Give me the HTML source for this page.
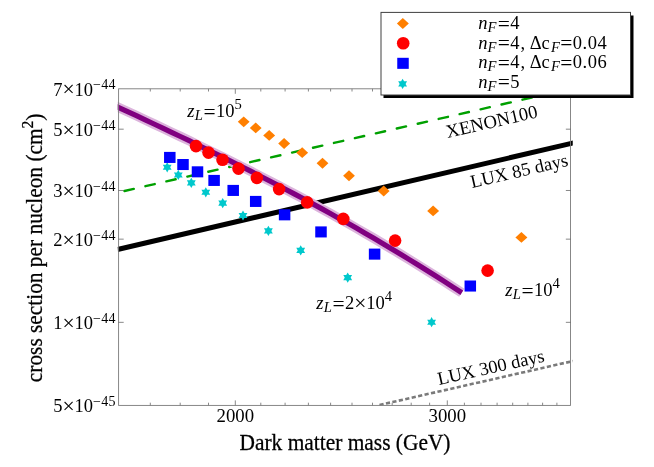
<!DOCTYPE html>
<html><head><meta charset="utf-8"><title>chart</title>
<style>
html,body{margin:0;padding:0;background:#fff;}
svg{display:block;will-change:transform;}
text{font-family:"Liberation Serif",serif;fill:#000;}
.i{font-style:italic;}
</style></head><body>
<svg width="654" height="467" viewBox="0 0 654 467">
<rect x="0" y="0" width="654" height="467" fill="#fff"/>
<defs><clipPath id="cp"><rect x="117.69999999999999" y="88.8" width="455.04999999999995" height="316.59999999999997"/></clipPath></defs>
<g clip-path="url(#cp)">
<line x1="124.5" y1="191.0" x2="575" y2="87.65" stroke="#00a000" stroke-width="2.4" stroke-dasharray="9.5 11.99" stroke-linecap="round"/>
<line x1="379.5" y1="405" x2="575" y2="360.6" stroke="#7a7a7a" stroke-width="2.6" stroke-dasharray="4.2 2.4"/>
<line x1="117.5" y1="249.5" x2="575" y2="142.52" stroke="#000" stroke-width="5.0"/>
</g>
<path d="M110.0,103.5 L118.8,107.6 L127.6,111.6 L136.4,115.7 L145.2,119.8 L154.0,124.0 L162.8,128.1 L171.6,132.3 L180.4,136.5 L189.2,140.7 L197.9,145.0 L206.7,149.3 L215.5,153.6 L224.3,157.9 L233.1,162.3 L241.9,166.8 L250.7,171.2 L259.5,175.7 L268.3,180.3 L277.1,184.8 L285.9,189.5 L294.7,194.1 L303.5,198.8 L312.3,203.6 L321.1,208.4 L329.9,213.3 L338.7,218.2 L347.5,223.1 L356.3,228.1 L365.1,233.2 L373.9,238.3 L382.6,243.5 L391.4,248.7 L400.2,254.0 L409.0,259.4 L417.8,264.8 L426.6,270.3 L435.4,275.8 L444.2,281.4 L453.0,287.1 L461.8,292.8" fill="none" stroke="#dcb4dc" stroke-width="9.7" stroke-linejoin="round" clip-path="url(#cp)"/>
<path d="M110.0,103.5 L118.8,107.6 L127.6,111.6 L136.4,115.7 L145.2,119.8 L154.0,124.0 L162.8,128.1 L171.6,132.3 L180.4,136.5 L189.2,140.7 L197.9,145.0 L206.7,149.3 L215.5,153.6 L224.3,157.9 L233.1,162.3 L241.9,166.8 L250.7,171.2 L259.5,175.7 L268.3,180.3 L277.1,184.8 L285.9,189.5 L294.7,194.1 L303.5,198.8 L312.3,203.6 L321.1,208.4 L329.9,213.3 L338.7,218.2 L347.5,223.1 L356.3,228.1 L365.1,233.2 L373.9,238.3 L382.6,243.5 L391.4,248.7 L400.2,254.0 L409.0,259.4 L417.8,264.8 L426.6,270.3 L435.4,275.8 L444.2,281.4 L453.0,287.1 L461.8,292.8" fill="none" stroke="#800080" stroke-width="5.2" stroke-linejoin="round" clip-path="url(#cp)"/>
<path d="M237.8,121.8 L243.7,116.4 L249.6,121.8 L243.7,127.2Z" fill="#ff7f00"/>
<path d="M249.8,128.0 L255.7,122.5 L261.6,128.0 L255.7,133.3Z" fill="#ff7f00"/>
<path d="M263.2,135.4 L269.2,130.0 L275.1,135.4 L269.2,140.8Z" fill="#ff7f00"/>
<path d="M278.2,143.5 L284.1,138.1 L290.1,143.5 L284.1,148.9Z" fill="#ff7f00"/>
<path d="M296.2,152.7 L302.2,147.2 L308.1,152.7 L302.2,158.1Z" fill="#ff7f00"/>
<path d="M316.6,163.2 L322.5,157.8 L328.4,163.2 L322.5,168.7Z" fill="#ff7f00"/>
<path d="M343.1,175.8 L349.0,170.3 L354.9,175.8 L349.0,181.2Z" fill="#ff7f00"/>
<path d="M377.8,191.0 L383.7,185.6 L389.6,191.0 L383.7,196.4Z" fill="#ff7f00"/>
<path d="M427.2,210.9 L433.1,205.5 L439.1,210.9 L433.1,216.3Z" fill="#ff7f00"/>
<path d="M515.4,237.4 L521.4,232.0 L527.4,237.4 L521.4,242.8Z" fill="#ff7f00"/>
<polygon points="167.20,162.20 168.67,164.75 171.62,164.75 170.15,167.30 171.62,169.85 168.67,169.85 167.20,172.40 165.72,169.85 162.78,169.85 164.25,167.30 162.78,164.75 165.72,164.75" fill="#00c8cc"/>
<polygon points="178.30,169.85 179.78,172.40 182.72,172.40 181.25,174.95 182.72,177.50 179.78,177.50 178.30,180.05 176.83,177.50 173.88,177.50 175.35,174.95 173.88,172.40 176.83,172.40" fill="#00c8cc"/>
<polygon points="191.30,177.80 192.78,180.35 195.72,180.35 194.25,182.90 195.72,185.45 192.78,185.45 191.30,188.00 189.83,185.45 186.88,185.45 188.35,182.90 186.88,180.35 189.83,180.35" fill="#00c8cc"/>
<polygon points="205.80,187.20 207.28,189.75 210.22,189.75 208.75,192.30 210.22,194.85 207.28,194.85 205.80,197.40 204.33,194.85 201.38,194.85 202.85,192.30 201.38,189.75 204.33,189.75" fill="#00c8cc"/>
<polygon points="222.70,198.00 224.17,200.55 227.12,200.55 225.65,203.10 227.12,205.65 224.17,205.65 222.70,208.20 221.22,205.65 218.28,205.65 219.75,203.10 218.28,200.55 221.22,200.55" fill="#00c8cc"/>
<polygon points="243.00,210.40 244.47,212.95 247.42,212.95 245.95,215.50 247.42,218.05 244.47,218.05 243.00,220.60 241.53,218.05 238.58,218.05 240.05,215.50 238.58,212.95 241.53,212.95" fill="#00c8cc"/>
<polygon points="268.40,225.80 269.88,228.35 272.82,228.35 271.35,230.90 272.82,233.45 269.88,233.45 268.40,236.00 266.92,233.45 263.98,233.45 265.45,230.90 263.98,228.35 266.92,228.35" fill="#00c8cc"/>
<polygon points="300.70,245.30 302.18,247.85 305.12,247.85 303.65,250.40 305.12,252.95 302.18,252.95 300.70,255.50 299.22,252.95 296.28,252.95 297.75,250.40 296.28,247.85 299.22,247.85" fill="#00c8cc"/>
<polygon points="347.70,272.50 349.18,275.05 352.12,275.05 350.65,277.60 352.12,280.15 349.18,280.15 347.70,282.70 346.22,280.15 343.28,280.15 344.75,277.60 343.28,275.05 346.22,275.05" fill="#00c8cc"/>
<polygon points="431.60,317.10 433.08,319.65 436.02,319.65 434.55,322.20 436.02,324.75 433.08,324.75 431.60,327.30 430.12,324.75 427.18,324.75 428.65,322.20 427.18,319.65 430.12,319.65" fill="#00c8cc"/>
<rect x="164.05" y="151.90" width="11.5" height="11.05" fill="#0000ff"/>
<rect x="177.25" y="159.00" width="11.5" height="11.05" fill="#0000ff"/>
<rect x="191.75" y="166.30" width="11.5" height="11.05" fill="#0000ff"/>
<rect x="208.35" y="174.90" width="11.5" height="11.05" fill="#0000ff"/>
<rect x="227.45" y="184.90" width="11.5" height="11.05" fill="#0000ff"/>
<rect x="249.95" y="195.90" width="11.5" height="11.05" fill="#0000ff"/>
<rect x="278.85" y="209.30" width="11.5" height="11.05" fill="#0000ff"/>
<rect x="315.25" y="226.40" width="11.5" height="11.05" fill="#0000ff"/>
<rect x="368.85" y="248.60" width="11.5" height="11.05" fill="#0000ff"/>
<rect x="464.55" y="280.50" width="11.5" height="11.05" fill="#0000ff"/>
<circle cx="196.0" cy="146.1" r="6.3" fill="#ff0000"/>
<circle cx="208.5" cy="152.6" r="6.3" fill="#ff0000"/>
<circle cx="222.5" cy="159.8" r="6.3" fill="#ff0000"/>
<circle cx="238.5" cy="168.6" r="6.3" fill="#ff0000"/>
<circle cx="256.9" cy="177.9" r="6.3" fill="#ff0000"/>
<circle cx="279.1" cy="189.1" r="6.3" fill="#ff0000"/>
<circle cx="307.2" cy="202.4" r="6.3" fill="#ff0000"/>
<circle cx="343.3" cy="218.9" r="6.3" fill="#ff0000"/>
<circle cx="395.1" cy="240.6" r="6.3" fill="#ff0000"/>
<circle cx="487.6" cy="270.6" r="6.3" fill="#ff0000"/>
<g stroke="#7a7a7a" stroke-width="0.9" fill="none">
<rect x="118.6" y="88.8" width="451.94999999999993" height="316.59999999999997"/>
<line x1="150.3" y1="405.4" x2="150.3" y2="402.7"/>
<line x1="150.3" y1="88.8" x2="150.3" y2="91.5"/>
<line x1="180.2" y1="405.4" x2="180.2" y2="402.7"/>
<line x1="180.2" y1="88.8" x2="180.2" y2="91.5"/>
<line x1="208.5" y1="405.4" x2="208.5" y2="402.7"/>
<line x1="208.5" y1="88.8" x2="208.5" y2="91.5"/>
<line x1="235.3" y1="405.4" x2="235.3" y2="400.4"/>
<line x1="235.3" y1="88.8" x2="235.3" y2="93.8"/>
<line x1="260.8" y1="405.4" x2="260.8" y2="402.7"/>
<line x1="260.8" y1="88.8" x2="260.8" y2="91.5"/>
<line x1="285.1" y1="405.4" x2="285.1" y2="402.7"/>
<line x1="285.1" y1="88.8" x2="285.1" y2="91.5"/>
<line x1="308.4" y1="405.4" x2="308.4" y2="402.7"/>
<line x1="308.4" y1="88.8" x2="308.4" y2="91.5"/>
<line x1="330.6" y1="405.4" x2="330.6" y2="402.7"/>
<line x1="330.6" y1="88.8" x2="330.6" y2="91.5"/>
<line x1="352.0" y1="405.4" x2="352.0" y2="402.7"/>
<line x1="352.0" y1="88.8" x2="352.0" y2="91.5"/>
<line x1="372.5" y1="405.4" x2="372.5" y2="402.7"/>
<line x1="372.5" y1="88.8" x2="372.5" y2="91.5"/>
<line x1="392.2" y1="405.4" x2="392.2" y2="402.7"/>
<line x1="392.2" y1="88.8" x2="392.2" y2="91.5"/>
<line x1="411.2" y1="405.4" x2="411.2" y2="402.7"/>
<line x1="411.2" y1="88.8" x2="411.2" y2="91.5"/>
<line x1="429.6" y1="405.4" x2="429.6" y2="402.7"/>
<line x1="429.6" y1="88.8" x2="429.6" y2="91.5"/>
<line x1="447.3" y1="405.4" x2="447.3" y2="400.4"/>
<line x1="447.3" y1="88.8" x2="447.3" y2="93.8"/>
<line x1="464.4" y1="405.4" x2="464.4" y2="402.7"/>
<line x1="464.4" y1="88.8" x2="464.4" y2="91.5"/>
<line x1="481.0" y1="405.4" x2="481.0" y2="402.7"/>
<line x1="481.0" y1="88.8" x2="481.0" y2="91.5"/>
<line x1="497.1" y1="405.4" x2="497.1" y2="402.7"/>
<line x1="497.1" y1="88.8" x2="497.1" y2="91.5"/>
<line x1="512.7" y1="405.4" x2="512.7" y2="402.7"/>
<line x1="512.7" y1="88.8" x2="512.7" y2="91.5"/>
<line x1="527.9" y1="405.4" x2="527.9" y2="402.7"/>
<line x1="527.9" y1="88.8" x2="527.9" y2="91.5"/>
<line x1="542.6" y1="405.4" x2="542.6" y2="402.7"/>
<line x1="542.6" y1="88.8" x2="542.6" y2="91.5"/>
<line x1="556.9" y1="405.4" x2="556.9" y2="402.7"/>
<line x1="556.9" y1="88.8" x2="556.9" y2="91.5"/>
<line x1="118.6" y1="129.18" x2="123.69999999999999" y2="129.18" stroke-width="0.7" stroke="#555"/>
<line x1="570.55" y1="129.18" x2="565.8499999999999" y2="129.18" stroke-width="0.7" stroke="#555"/>
<line x1="118.6" y1="190.49" x2="123.69999999999999" y2="190.49" stroke-width="0.7" stroke="#555"/>
<line x1="570.55" y1="190.49" x2="565.8499999999999" y2="190.49" stroke-width="0.7" stroke="#555"/>
<line x1="118.6" y1="239.15" x2="123.69999999999999" y2="239.15" stroke-width="0.7" stroke="#555"/>
<line x1="570.55" y1="239.15" x2="565.8499999999999" y2="239.15" stroke-width="0.7" stroke="#555"/>
<line x1="118.6" y1="322.34" x2="123.69999999999999" y2="322.34" stroke-width="0.7" stroke="#555"/>
<line x1="570.55" y1="322.34" x2="565.8499999999999" y2="322.34" stroke-width="0.7" stroke="#555"/>
</g>
<text x="115.89999999999999" y="95.7" font-size="18.5" text-anchor="end">7<tspan font-size="21.5" dy="0.6">×</tspan><tspan dy="-0.6">10</tspan><tspan font-size="14" dy="-6.6" letter-spacing="0.3">−44</tspan></text>
<text x="115.89999999999999" y="136.1" font-size="18.5" text-anchor="end">5<tspan font-size="21.5" dy="0.6">×</tspan><tspan dy="-0.6">10</tspan><tspan font-size="14" dy="-6.6" letter-spacing="0.3">−44</tspan></text>
<text x="115.89999999999999" y="197.4" font-size="18.5" text-anchor="end">3<tspan font-size="21.5" dy="0.6">×</tspan><tspan dy="-0.6">10</tspan><tspan font-size="14" dy="-6.6" letter-spacing="0.3">−44</tspan></text>
<text x="115.89999999999999" y="246.1" font-size="18.5" text-anchor="end">2<tspan font-size="21.5" dy="0.6">×</tspan><tspan dy="-0.6">10</tspan><tspan font-size="14" dy="-6.6" letter-spacing="0.3">−44</tspan></text>
<text x="115.89999999999999" y="329.2" font-size="18.5" text-anchor="end">1<tspan font-size="21.5" dy="0.6">×</tspan><tspan dy="-0.6">10</tspan><tspan font-size="14" dy="-6.6" letter-spacing="0.3">−44</tspan></text>
<text x="115.89999999999999" y="412.4" font-size="18.5" text-anchor="end">5<tspan font-size="21.5" dy="0.6">×</tspan><tspan dy="-0.6">10</tspan><tspan font-size="14" dy="-6.6" letter-spacing="0.3">−45</tspan></text>
<text x="235.3" y="421.9" font-size="18.8" text-anchor="middle">2000</text>
<text x="447.3" y="421.9" font-size="18.8" text-anchor="middle">3000</text>
<text transform="translate(345,450.0) scale(1,1.04)" font-size="21.4" text-anchor="middle" stroke="#000" stroke-width="0.25">Dark matter mass (GeV)</text>
<text transform="translate(42.0,247.85) rotate(-90) scale(1,1.06)" font-size="21.36" text-anchor="middle" stroke="#000" stroke-width="0.25">cross section per nucleon (cm<tspan font-size="15.6" dy="-8.4">2</tspan><tspan dy="8.4">)</tspan></text>
<text x="187.3" y="117" font-size="18.5"><tspan class="i">z</tspan><tspan class="i" font-size="14.6" dx="0.3" dy="3.00">L</tspan><tspan font-size="21.5" dx="0.6" dy="-1.50">=</tspan><tspan dx="0.3" dy="-1.50">10</tspan><tspan font-size="14.6" dy="-8.40">5</tspan></text>
<text x="316.3" y="309.2" font-size="18.5"><tspan class="i">z</tspan><tspan class="i" font-size="14.6" dx="0.3" dy="3.00">L</tspan><tspan font-size="21.5" dx="0.6" dy="-1.50">=</tspan><tspan dx="0.3" dy="-1.50">2</tspan><tspan font-size="21.5" dy="0.60">×</tspan><tspan dy="-0.60">10</tspan><tspan font-size="14.6" dy="-8.40">4</tspan></text>
<text x="505.3" y="296" font-size="18.5"><tspan class="i">z</tspan><tspan class="i" font-size="14.6" dx="0.3" dy="3.00">L</tspan><tspan font-size="21.5" dx="0.6" dy="-1.50">=</tspan><tspan dx="0.3" dy="-1.50">10</tspan><tspan font-size="14.6" dy="-8.40">4</tspan></text>
<text transform="translate(447.5,138.1) rotate(-13)" font-size="18.7">XENON100</text>
<text transform="translate(472,188) rotate(-13)" font-size="18.5">LUX 85 days</text>
<text transform="translate(439,385) rotate(-12.5)" font-size="18.5">LUX 300 days</text>
<rect x="383.5" y="15.5" width="250" height="82.5" fill="#000"/>
<rect x="381" y="12.4" width="249.5" height="82.6" fill="#fff" stroke="#404040" stroke-width="1"/>
<path d="M396.9,23.5 L402.8,18.1 L408.8,23.5 L402.8,28.9Z" fill="#ff7f00"/>
<circle cx="403.2" cy="43.3" r="6.3" fill="#ff0000"/>
<rect x="397.25" y="57.80" width="11.5" height="11.05" fill="#0000ff"/>
<polygon points="402.60,78.80 404.08,81.35 407.02,81.35 405.55,83.90 407.02,86.45 404.08,86.45 402.60,89.00 401.12,86.45 398.18,86.45 399.65,83.90 398.18,81.35 401.12,81.35" fill="#00c8cc"/>
<text x="478.3" y="29" font-size="18.5"><tspan class="i">n</tspan><tspan class="i" font-size="14.6" dy="3.00">F</tspan><tspan font-size="21.5" dx="1.4" dy="-1.50">=</tspan><tspan dx="0.3" dy="-1.50">4</tspan></text>
<text x="478.3" y="48.6" font-size="18.5"><tspan class="i">n</tspan><tspan class="i" font-size="14.6" dy="3.00">F</tspan><tspan font-size="21.5" dx="1.4" dy="-1.50">=</tspan><tspan dx="0.3" dy="-1.50">4</tspan><tspan dx="0.9">,</tspan><tspan> Δc</tspan><tspan class="i" font-size="14.6" dx="1.2" dy="3.00">F</tspan><tspan font-size="21.5" dx="0.3" dy="-1.50">=</tspan><tspan dx="0.3" dy="-1.50">0</tspan><tspan dx="0.6">.</tspan><tspan dx="0.6">0</tspan><tspan dx="0.4">4</tspan></text>
<text x="478.3" y="68.2" font-size="18.5"><tspan class="i">n</tspan><tspan class="i" font-size="14.6" dy="3.00">F</tspan><tspan font-size="21.5" dx="1.4" dy="-1.50">=</tspan><tspan dx="0.3" dy="-1.50">4</tspan><tspan dx="0.9">,</tspan><tspan> Δc</tspan><tspan class="i" font-size="14.6" dx="1.2" dy="3.00">F</tspan><tspan font-size="21.5" dx="0.3" dy="-1.50">=</tspan><tspan dx="0.3" dy="-1.50">0</tspan><tspan dx="0.6">.</tspan><tspan dx="0.6">0</tspan><tspan dx="0.4">6</tspan></text>
<text x="478.3" y="87.8" font-size="18.5"><tspan class="i">n</tspan><tspan class="i" font-size="14.6" dy="3.00">F</tspan><tspan font-size="21.5" dx="1.4" dy="-1.50">=</tspan><tspan dx="0.3" dy="-1.50">5</tspan></text>
</svg></body></html>
